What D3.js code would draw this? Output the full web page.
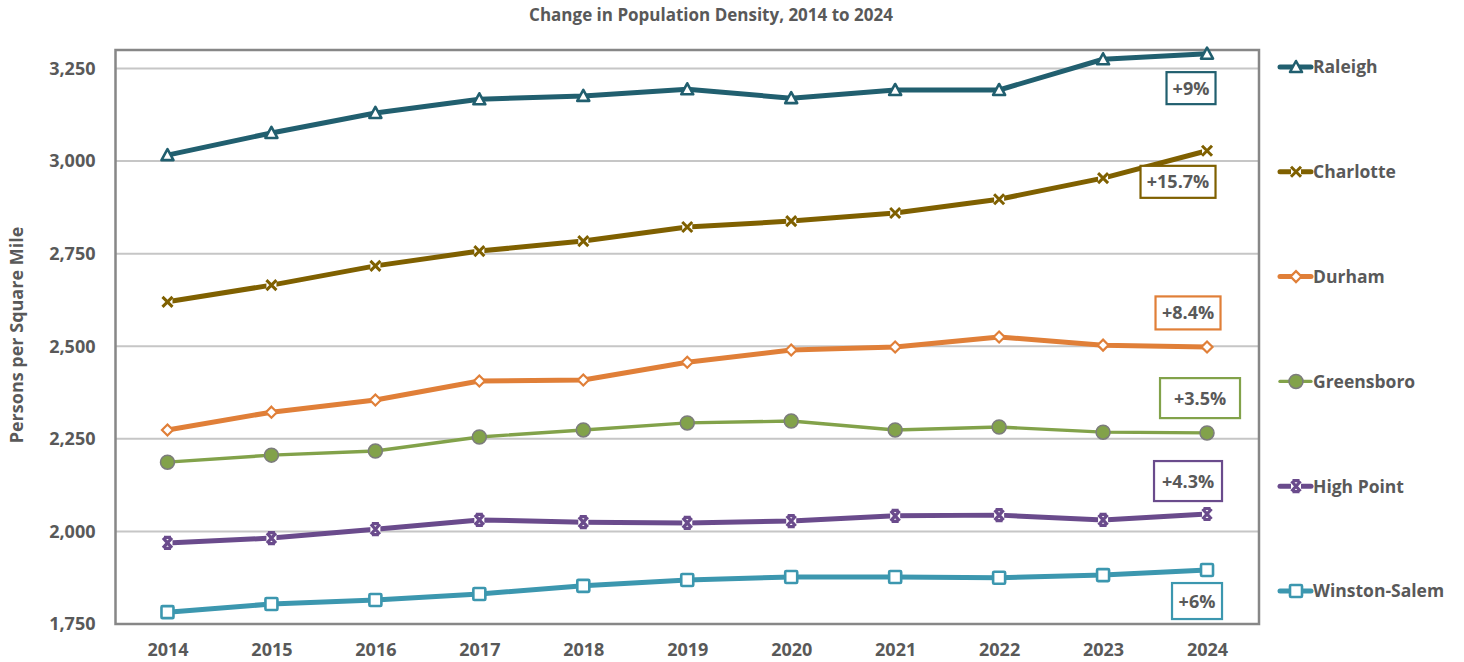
<!DOCTYPE html>
<html>
<head>
<meta charset="utf-8">
<script src="https://cdn.jsdelivr.net/npm/d3@7"></script>
<style>
  html, body { margin: 0; padding: 0; background: #fff; }
  svg { display: block; font-family: "Open Sans", Lato, sans-serif; }
</style>
</head>
<body>
<svg id="chart" width="1464" height="662"></svg>
<script>
// Years on the horizontal axis
const years = ["2014","2015","2016","2017","2018","2019","2020","2021","2022","2023","2024"];

// Persons per square mile, by city
const raleigh      = [3016, 3076, 3130, 3167, 3176, 3194, 3170, 3192, 3192, 3275, 3290];
const charlotte    = [2620, 2665, 2717, 2757, 2784, 2822, 2838, 2860, 2897, 2954, 3028];
const durham       = [2274, 2322, 2355, 2406, 2409, 2457, 2490, 2498, 2525, 2503, 2498];
const greensboro   = [2187, 2206, 2217, 2255, 2274, 2293, 2298, 2274, 2282, 2268, 2266];
const highPoint    = [1969, 1982, 2006, 2031, 2025, 2023, 2028, 2042, 2044, 2031, 2047];
const winstonSalem = [1782, 1804, 1815, 1831, 1853, 1869, 1877, 1877, 1875, 1882, 1896];

const cityNames    = ["Raleigh", "Charlotte", "Durham", "Greensboro", "High Point", "Winston-Salem"];
const changeLabels = ["+9%", "+15.7%", "+8.4%", "+3.5%", "+4.3%", "+6%"];

const yTicks = [1750, 2000, 2250, 2500, 2750, 3000, 3250];

const styles = [
  { color: "#215F6F", width: 5, marker: "triangle" },
  { color: "#7F6000", width: 5, marker: "cross" },
  { color: "#E07F38", width: 5, marker: "diamond" },
  { color: "#82A24A", width: 3.4, marker: "circle" },
  { color: "#6A4B8C", width: 5, marker: "star" },
  { color: "#3C97AF", width: 5, marker: "square" }
];

// Boxed change labels: horizontal nudge from the last year, vertical centre in data units, box size
const labelPos = [
  { dx: -16, v: 3197, w: 49, h: 32 },
  { dx: -29, v: 2944, w: 75, h: 32 },
  { dx: -19, v: 2590, w: 65, h: 33 },
  { dx: -7,  v: 2360, w: 80, h: 40 },
  { dx: -19, v: 2136, w: 68, h: 40 },
  { dx: -10, v: 1812, w: 50, h: 36 }
];

const series = [raleigh, charlotte, durham, greensboro, highPoint, winstonSalem];

const svg = d3.select("#chart");
const plotLeft = 115.5, plotRight = 1259, plotTop = 50, plotBottom = 624;

const x = d3.scalePoint().domain(years).range([plotLeft, plotRight]).padding(0.5);
const y = d3.scaleLinear().domain([1750, 3300]).range([plotBottom, plotTop]);

const textColor = "#595959";

// Gridlines
svg.append("g").selectAll("line").data(yTicks.filter(t => t > 1750)).join("line")
  .attr("x1", plotLeft).attr("x2", plotRight)
  .attr("y1", d => y(d)).attr("y2", d => y(d))
  .attr("stroke", "#C6C6C6").attr("stroke-width", 2);

// Y axis
const yAxis = d3.axisLeft(y).tickValues(yTicks).tickSize(0).tickPadding(20)
  .tickFormat(d3.format(","));
const gy = svg.append("g").attr("transform", `translate(${plotLeft},0)`).call(yAxis);
gy.select(".domain").remove();
gy.selectAll("text").attr("fill", textColor).attr("font-size", 18).attr("font-weight", 700)
  .attr("font-family", "'Open Sans', sans-serif");

// X axis
const xAxis = d3.axisBottom(x).tickSize(0).tickPadding(19);
const gx = svg.append("g").attr("transform", `translate(0,${plotBottom})`).call(xAxis);
gx.select(".domain").remove();
gx.selectAll("text").attr("fill", textColor).attr("font-size", 18).attr("font-weight", 700)
  .attr("font-family", "'Open Sans', sans-serif");

// Plot frame
svg.append("rect").attr("x", plotLeft).attr("y", plotTop)
  .attr("width", plotRight - plotLeft).attr("height", plotBottom - plotTop)
  .attr("fill", "none").attr("stroke", "#878787").attr("stroke-width", 2.5);

// Marker drawing
function drawMarker(g, type, color) {
  if (type === "triangle") {
    g.append("path").attr("d", "M0,-6 L6,5 L-6,5 Z")
      .attr("fill", "#fff").attr("stroke", color).attr("stroke-width", 2.6).attr("stroke-linejoin", "round");
  } else if (type === "cross") {
    g.append("rect").attr("x", -5).attr("y", -5).attr("width", 10).attr("height", 10).attr("fill", "#fff");
    g.append("path").attr("d", "M-5,-5 L5,5 M-5,5 L5,-5")
      .attr("stroke", color).attr("stroke-width", 3).attr("fill", "none");
  } else if (type === "diamond") {
    g.append("path").attr("d", "M0,-5.5 L5.5,0 L0,5.5 L-5.5,0 Z")
      .attr("fill", "#fff").attr("stroke", color).attr("stroke-width", 2.2);
  } else if (type === "circle") {
    g.append("circle").attr("r", 7)
      .attr("fill", color).attr("stroke", "#7C7C7C").attr("stroke-width", 1.5);
  } else if (type === "star") {
    g.append("rect").attr("x", -5).attr("y", -5).attr("width", 10).attr("height", 10).attr("fill", "#fff");
    g.append("path").attr("d", "M-4.5,-5 L4.5,5 M-4.5,5 L4.5,-5 M-3.5,-5.5 L3.5,-5.5 M-3.5,5.5 L3.5,5.5")
      .attr("stroke", color).attr("stroke-width", 3.2).attr("fill", "none");
  } else if (type === "square") {
    g.append("rect").attr("x", -6).attr("y", -6).attr("width", 12).attr("height", 12).attr("rx", 1)
      .attr("fill", "#fff").attr("stroke", color).attr("stroke-width", 2.6);
  }
}

const line = d3.line().x((d, i) => x(years[i])).y(d => y(d));

series.forEach((vals, si) => {
  const st = styles[si];
  svg.append("path").datum(vals).attr("d", line)
    .attr("fill", "none").attr("stroke", st.color).attr("stroke-width", st.width)
    .attr("stroke-linejoin", "round").attr("stroke-linecap", "round");
  vals.forEach((v, i) => {
    const g = svg.append("g").attr("transform", `translate(${x(years[i])},${y(v)})`);
    drawMarker(g, st.marker, st.color);
  });
});

// Change labels in boxes
changeLabels.forEach((lab, si) => {
  const p = labelPos[si];
  const cx = x(years[years.length - 1]) + p.dx;
  const cy = y(p.v);
  const g = svg.append("g").attr("transform", `translate(${cx},${cy})`);
  g.append("rect").attr("x", -p.w / 2).attr("y", -p.h / 2).attr("width", p.w).attr("height", p.h)
    .attr("fill", "#fff").attr("stroke", styles[si].color).attr("stroke-width", 2.2);
  g.append("text").attr("text-anchor", "middle").attr("dy", "0.36em")
    .attr("fill", textColor).attr("font-size", 18).attr("font-weight", 700)
    .text(lab);
});

// Legend
const legendY = d3.scalePoint().domain(cityNames).range([67, 591]);
cityNames.forEach((name, si) => {
  const st = styles[si];
  const g = svg.append("g").attr("transform", `translate(1280,${legendY(name)})`);
  g.append("line").attr("x1", 0).attr("x2", 31).attr("y1", 0).attr("y2", 0)
    .attr("stroke", st.color).attr("stroke-width", st.width).attr("stroke-linecap", "round");
  const m = g.append("g").attr("transform", "translate(16,0)");
  drawMarker(m, st.marker, st.color);
  g.append("text").attr("x", 33).attr("dy", "0.36em")
    .attr("fill", textColor).attr("font-size", 17.5).attr("font-weight", 700)
    .text(name);
});

// Title
svg.append("text").attr("x", 711).attr("y", 21).attr("text-anchor", "middle")
  .attr("fill", textColor).attr("font-size", 17).attr("font-weight", 700)
  .text("Change in Population Density, 2014 to 2024");

// Y axis title
svg.append("text").attr("transform", `translate(23,${(plotTop + plotBottom) / 2 - 2}) rotate(-90)`)
  .attr("text-anchor", "middle")
  .attr("fill", textColor).attr("font-size", 18).attr("font-weight", 700)
  .text("Persons per Square Mile");
</script>
</body>
</html>
